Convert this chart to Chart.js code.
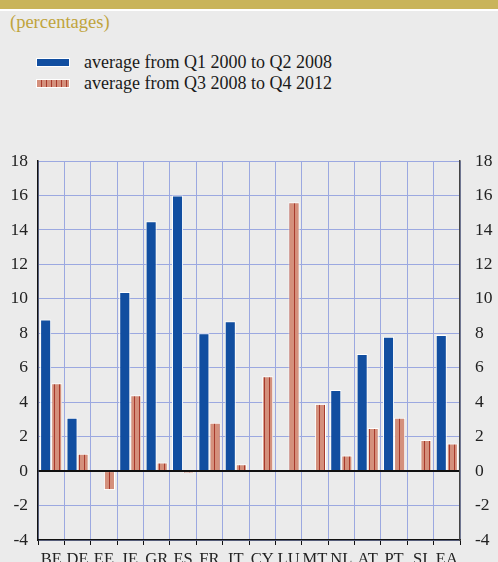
<!DOCTYPE html>
<html>
<head>
<meta charset="utf-8">
<script src="https://cdn.jsdelivr.net/npm/chart.js@4.4.1/dist/chart.umd.min.js"></script>
<style>
  html, body { margin: 0; padding: 0; }
  body {
    width: 498px; height: 562px; overflow: hidden; position: relative;
    background: #ebebeb; font-family: "Liberation Serif", "Times New Roman", serif;
  }
  .topbar { position: absolute; left: 0; top: 0; width: 498px; height: 9px; background: #c9b45a; }
  .topline { position: absolute; left: 0; top: 9px; width: 498px; height: 2px; background: #fff; }
  .unit { position: absolute; left: 10px; top: 12px; font-size: 18.5px; color: #c0a43c; }
  .legend { position: absolute; left: 36px; top: 52px; font-size: 18px; color: #1a1a1a; }
  .legend div { height: 21px; line-height: 21px; position: relative; padding-left: 48px; white-space: nowrap; }
  .legend span { position: absolute; left: 0; top: 6px; width: 32px; height: 7px; border: 1px solid #fff; }
  .sw1 { background: #114ea0; }
  .sw2 { background: repeating-linear-gradient(90deg, #d4907c 0 4px, #a83a2c 4px 5px); }
  #wrap { position: absolute; left: 0; top: 140px; width: 498px; height: 440px; }
</style>
</head>
<body>
<div class="topbar"></div>
<div class="topline"></div>
<div class="unit">(percentages)</div>
<div class="legend">
  <div><span class="sw1"></span>average from Q1 2000 to Q2 2008</div>
  <div><span class="sw2"></span>average from Q3 2008 to Q4 2012</div>
</div>
<div id="wrap"><canvas id="chart" width="498" height="440"></canvas></div>
<script>
"use strict";

const categories = ["BE", "DE", "EE", "IE", "GR", "ES", "FR", "IT", "CY", "LU", "MT", "NL", "AT", "PT", "SI", "EA"];
const precrisis = [8.8, 3.1, 0, 10.4, 14.5, 16.0, 8.0, 8.7, 0, 0, 0, 4.7, 6.8, 7.8, 0, 7.9];
const crisis = [5.1, 1.0, -1.1, 4.4, 0.5, -0.1, 2.8, 0.4, 5.5, 15.6, 3.9, 0.9, 2.5, 3.1, 1.8, 1.6];
const seriesLabels = ["average from Q1 2000 to Q2 2008", "average from Q3 2008 to Q4 2012"];
const yMin = -4, yMax = 18, yStep = 2;

const C = {
  blue: "#114ea0",
  salmon: "#d4907c",
  stripe: "#a83a2c",
  grid: "#9ba8e0",
  text: "#222222"
};

function stripePattern() {
  const p = document.createElement("canvas");
  p.width = 5; p.height = 4;
  const g = p.getContext("2d");
  g.fillStyle = C.salmon;
  g.fillRect(0, 0, 5, 4);
  g.fillStyle = C.stripe;
  g.fillRect(4, 0, 1, 4);
  return document.getElementById("chart").getContext("2d").createPattern(p, "repeat");
}

const font = { family: "'Liberation Serif', 'Times New Roman', serif", size: 17.5 };

// fixed axis widths; drop the label padding v4 adds above/below the y scales
const fitY = s => { s.width = 38; s.paddingTop = 0; s.paddingBottom = 0; };

new Chart(document.getElementById("chart"), {
  type: "bar",
  data: {
    labels: categories,
    datasets: [
      { label: seriesLabels[0], data: precrisis, backgroundColor: C.blue, borderColor: "#ffffff", borderWidth: 1, yAxisID: "y" },
      { label: seriesLabels[1], data: crisis, backgroundColor: stripePattern(), borderColor: "#ffffff", borderWidth: 1, yAxisID: "y" }
    ]
  },
  options: {
    responsive: false,
    animation: false,
    layout: { padding: { top: 21, left: 0, right: 0, bottom: 0 } },
    datasets: { bar: { categoryPercentage: 0.84, barPercentage: 1.0 } },
    plugins: { legend: { display: false }, tooltip: { enabled: false } },
    scales: {
      x: {
        grid: { color: C.grid, offset: true, drawTicks: true, tickLength: 5, tickColor: "#111" },
        border: { display: true, color: "#111", width: 1.5 },
        ticks: { color: C.text, font: { ...font, size: 16.5 }, padding: 5, maxRotation: 0, autoSkip: false },
        afterFit: s => { s.height = 40; }
      },
      y: {
        position: "left",
        min: yMin, max: yMax,
        ticks: { stepSize: yStep, color: C.text, font, padding: 10 },
        grid: {
          drawTicks: false,
          color: ctx => (ctx.tick && ctx.tick.value === 0 ? "#111" : C.grid),
          lineWidth: ctx => (ctx.tick && ctx.tick.value === 0 ? 2 : 1)
        },
        border: { display: true, color: "#111", width: 1.5 },
        afterFit: fitY
      },
      y2: {
        position: "right",
        min: yMin, max: yMax,
        ticks: { stepSize: yStep, color: C.text, font, padding: 15 },
        grid: { drawOnChartArea: false, drawTicks: false },
        border: { display: true, color: "#444", width: 1.5 },
        afterFit: fitY
      }
    }
  }
});
</script>
</body>
</html>
